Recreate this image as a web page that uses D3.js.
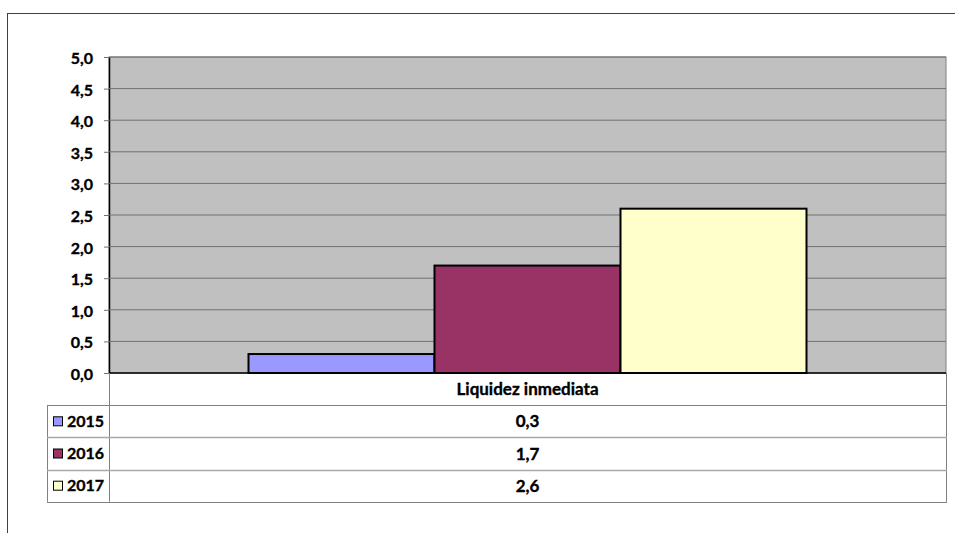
<!DOCTYPE html>
<html>
<head>
<meta charset="utf-8">
<script src="https://cdn.jsdelivr.net/npm/d3@7"></script>
<style>
  body { margin: 0; background: #fff; }
  text { font-family: Lato, "Liberation Sans", sans-serif; font-weight: bold; fill: #000; stroke: #000; stroke-width: 0.35px; }
</style>
</head>
<body>
<div id="cont"></div>
<script>
// data
var categories = ["Liquidez inmediata"];
var years = ["2015", "2016", "2017"];
var values = [0.3, 1.7, 2.6];
var colors = ["#9999ff", "#993366", "#ffffcc"];
var yTicks = [0, 0.5, 1, 1.5, 2, 2.5, 3, 3.5, 4, 4.5, 5];

var W = 955, H = 533;
var plot = { left: 109, right: 946, top: 57, bottom: 373 };
var rowH = 32.2;
var legendLeft = 47;

var svg = d3.select("#cont").append("svg").attr("width", W).attr("height", H);

var es = d3.formatLocale({ decimal: ",", thousands: ".", grouping: [3], currency: ["", "€"] });
var fmt = es.format(".1f");

// outer chart frame (cut off at right and bottom)
svg.append("rect")
  .attr("x", 7.5).attr("y", 13.5)
  .attr("width", 960).attr("height", 540)
  .attr("fill", "none").attr("stroke", "#404040").attr("stroke-width", 1);

var y = d3.scaleLinear().domain([0, 5]).range([plot.bottom, plot.top]);
var x0 = d3.scaleBand().domain(categories).range([plot.left, plot.right]).padding(0);
var x1 = d3.scaleBand().domain(years).range([0, x0.bandwidth()]).paddingInner(0).paddingOuter(0.75);

// plot area
svg.append("rect")
  .attr("x", plot.left).attr("y", plot.top)
  .attr("width", plot.right - plot.left).attr("height", plot.bottom - plot.top)
  .attr("fill", "#c0c0c0").attr("stroke", "#808080").attr("stroke-width", 1);

// gridlines + ticks
var yAxis = svg.append("g")
  .attr("transform", "translate(" + plot.left + ",0)")
  .call(d3.axisLeft(y).tickValues(yTicks).tickFormat(fmt).tickSizeInner(5).tickSizeOuter(0).tickPadding(11));
yAxis.select(".domain").attr("stroke", "#000").attr("stroke-width", 1.5);
yAxis.selectAll(".tick line").attr("stroke", "#707070");
yAxis.selectAll(".tick text").style("font-size", "16px").attr("dy", "0.4em");

svg.append("g").selectAll("line")
  .data(yTicks.slice(1))
  .join("line")
  .attr("x1", plot.left).attr("x2", plot.right)
  .attr("y1", function(d) { return y(d); }).attr("y2", function(d) { return y(d); })
  .attr("stroke", "#707070").attr("stroke-width", 1);

// bars
var bars = svg.append("g");
categories.forEach(function(c) {
  bars.selectAll("rect.bar")
    .data(values)
    .join("rect")
    .attr("class", "bar")
    .attr("x", function(d, i) { return x0(c) + x1(years[i]); })
    .attr("y", function(d) { return y(d); })
    .attr("width", x1.bandwidth())
    .attr("height", function(d) { return y(0) - y(d); })
    .attr("fill", function(d, i) { return colors[i]; })
    .attr("stroke", "#000").attr("stroke-width", 2);
});

// baseline
svg.append("line")
  .attr("x1", plot.left).attr("x2", plot.right)
  .attr("y1", y(0)).attr("y2", y(0))
  .attr("stroke", "#000").attr("stroke-width", 1.5);

// data table
var tbl = svg.append("g");
var tblBottom = plot.bottom + rowH * 4;

// vertical lines
tbl.append("line")
  .attr("x1", plot.left + 0.5).attr("x2", plot.left + 0.5)
  .attr("y1", plot.bottom).attr("y2", tblBottom)
  .attr("stroke", "#808080");
tbl.append("line")
  .attr("x1", plot.right + 0.5).attr("x2", plot.right + 0.5)
  .attr("y1", plot.bottom).attr("y2", tblBottom)
  .attr("stroke", "#808080");
tbl.append("line")
  .attr("x1", legendLeft + 0.5).attr("x2", legendLeft + 0.5)
  .attr("y1", plot.bottom + rowH).attr("y2", tblBottom)
  .attr("stroke", "#808080");

// horizontal lines
[1, 2, 3, 4].forEach(function(k) {
  tbl.append("line")
    .attr("x1", legendLeft).attr("x2", plot.right + 1)
    .attr("y1", Math.round(plot.bottom + rowH * k) + 0.5).attr("y2", Math.round(plot.bottom + rowH * k) + 0.5)
    .attr("stroke", (k === 2 || k === 3) ? "#a8a8a8" : "#808080")
    .attr("stroke-width", (k === 2 || k === 3) ? 1.5 : 1);
});

var midX = (plot.left + plot.right) / 2;

tbl.selectAll("text.cat")
  .data(categories)
  .join("text")
  .attr("class", "cat")
  .attr("x", function(c) { return x0(c) + x0.bandwidth() / 2; })
  .attr("y", plot.bottom + rowH / 2)
  .attr("dy", "0.35em")
  .attr("text-anchor", "middle")
  .style("font-size", "17px")
  .text(function(d) { return d; });

var rows = tbl.selectAll("g.row")
  .data(years)
  .join("g")
  .attr("class", "row")
  .attr("transform", function(d, i) { return "translate(0," + (plot.bottom + rowH * (i + 1)) + ")"; });

rows.append("rect")
  .attr("x", 53.5).attr("y", rowH / 2 - 4.5)
  .attr("width", 9).attr("height", 9)
  .attr("fill", function(d, i) { return colors[i]; })
  .attr("stroke", "#000").attr("stroke-width", 1);

rows.append("text")
  .attr("x", 67).attr("y", rowH / 2)
  .attr("dy", "0.36em")
  .style("font-size", "16px")
  .text(function(d) { return d; });

rows.append("text")
  .attr("x", midX).attr("y", rowH / 2)
  .attr("dy", "0.36em")
  .attr("text-anchor", "middle")
  .style("font-size", "17px")
  .text(function(d, i) { return fmt(values[i]); });
</script>
</body>
</html>
